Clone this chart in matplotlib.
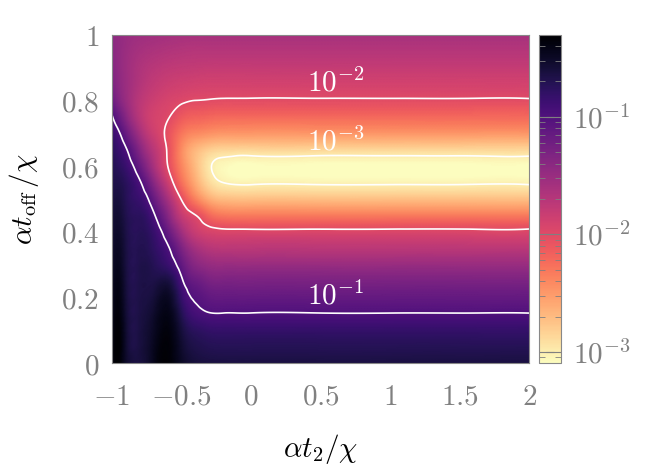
import numpy as np
import matplotlib
matplotlib.use("Agg")
import matplotlib.pyplot as plt
from matplotlib.colors import LogNorm
from matplotlib.ticker import FuncFormatter, NullFormatter
import matplotlib.tri as mtri

plt.rcParams['mathtext.fontset'] = 'cm'
plt.rcParams['font.family'] = 'serif'

# log10 of the plotted quantity
y_rows = [0.00, 0.05, 0.10, 0.15, 0.20, 0.25, 0.30, 0.35, 0.40, 0.45, 0.50,
          0.55, 0.60, 0.65, 0.70, 0.75, 0.80, 0.85, 0.90, 0.95, 1.00]

# columns on the left, where the map depends on t2
x_left = [-1.0, -0.95, -0.9, -0.8, -0.7, -0.6, -0.5, -0.4, -0.3, -0.2]
log_left = [
    [-0.46, -0.30, -0.52, -0.62, -0.45, -0.32, -0.50, -0.60, -0.62, -0.63],
    [-0.47, -0.31, -0.53, -0.63, -0.47, -0.34, -0.54, -0.67, -0.71, -0.72],
    [-0.48, -0.33, -0.54, -0.64, -0.50, -0.37, -0.60, -0.76, -0.81, -0.82],
    [-0.50, -0.36, -0.56, -0.65, -0.54, -0.41, -0.70, -0.92, -0.985, -0.99],
    [-0.52, -0.39, -0.58, -0.66, -0.60, -0.48, -0.82, -1.03, -1.12, -1.14],
    [-0.54, -0.42, -0.60, -0.67, -0.66, -0.62, -0.95, -1.17, -1.28, -1.30],
    [-0.56, -0.46, -0.62, -0.68, -0.72, -0.84, -1.12, -1.38, -1.48, -1.50],
    [-0.58, -0.49, -0.63, -0.70, -0.78, -0.96, -1.30, -1.58, -1.70, -1.73],
    [-0.60, -0.53, -0.65, -0.73, -0.84, -1.14, -1.55, -1.82, -1.92, -1.95],
    [-0.62, -0.57, -0.68, -0.76, -0.96, -1.36, -1.79, -1.99, -2.20, -2.30],
    [-0.65, -0.62, -0.72, -0.85, -1.15, -1.58, -2.01, -2.35, -2.60, -2.70],
    [-0.68, -0.68, -0.75, -0.966, -1.38, -1.82, -2.25, -2.60, -2.88, -3.00],
    [-0.70, -0.76, -0.85, -1.16, -1.60, -1.99, -2.38, -2.70, -2.97, -3.07],
    [-0.75, -0.85, -0.97, -1.36, -1.72, -2.02, -2.42, -2.68, -2.82, -2.87],
    [-0.85, -0.97, -1.16, -1.57, -1.85, -2.05, -2.30, -2.42, -2.47, -2.50],
    [-0.975, -1.16, -1.37, -1.72, -1.90, -1.98, -2.12, -2.18, -2.21, -2.23],
    [-1.17, -1.35, -1.50, -1.73, -1.85, -1.92, -1.97, -2.00, -2.01, -2.02],
    [-1.30, -1.42, -1.52, -1.68, -1.78, -1.84, -1.87, -1.89, -1.90, -1.90],
    [-1.36, -1.45, -1.53, -1.65, -1.72, -1.76, -1.78, -1.79, -1.80, -1.80],
    [-1.40, -1.46, -1.52, -1.60, -1.64, -1.67, -1.69, -1.70, -1.70, -1.70],
    [-1.42, -1.46, -1.50, -1.54, -1.56, -1.58, -1.59, -1.60, -1.60, -1.60],
]

# right part: no t2 dependence any more
x_right = [-0.1, 0.0, 0.5, 1.0, 1.5, 2.0]
log_right = [-0.63, -0.72, -0.82, -0.99, -1.14, -1.30, -1.50, -1.73, -1.95, -2.32,
             -2.72, -3.03, -3.11, -2.88, -2.50, -2.23, -2.02, -1.90, -1.80, -1.70, -1.60]

levels = [1e-3, 1e-2, 1e-1]
level_labels = [r'$10^{-3}$', r'$10^{-2}$', r'$10^{-1}$']
label_pos = [(0.40, 0.649), (0.40, 0.827), (0.40, 0.178)]

x_cols = np.array(x_left + x_right)
y_vals = np.array(y_rows)
logz = np.hstack([np.array(log_left), np.tile(np.array(log_right)[:, None], (1, len(x_right)))])

# triangulate the table and smooth it with matplotlib's cubic interpolator
X, Y = np.meshgrid(x_cols, y_vals)
nx, ny = len(x_cols), len(y_vals)
tris = []
for j in range(ny - 1):
    for i in range(nx - 1):
        a = j * nx + i
        tris.append([a, a + 1, a + nx + 1])
        tris.append([a, a + nx + 1, a + nx])
tri = mtri.Triangulation(X.ravel(), Y.ravel(), np.array(tris))
interp = mtri.CubicTriInterpolator(tri, logz.ravel())

xf = np.linspace(-1 + 1e-6, 2 - 1e-6, 700)
yf = np.linspace(1e-6, 1 - 1e-6, 400)
XF, YF = np.meshgrid(xf, yf)
ZF = 10 ** np.asarray(interp(XF, YF).filled(np.nan))

fig = plt.figure(figsize=(6.67, 4.72), dpi=100)
ax = fig.add_axes([0.1675, 0.2303, 0.6261, 0.6962])
cax = fig.add_axes([0.8085, 0.2303, 0.0321, 0.6962])

norm = LogNorm(vmin=8e-4, vmax=0.5)
mesh = ax.pcolormesh(xf, yf, ZF, cmap='magma_r', norm=norm, shading='gouraud')
ax.contour(xf, yf, ZF, levels=levels, colors='white', linewidths=1.2)
for lab, (tx, ty) in zip(level_labels, label_pos):
    ax.text(tx, ty, lab, color='white', fontsize=21, ha='left', va='baseline')

ax.set_xlim(-1, 2)
ax.set_ylim(0, 1)
ax.set_xticks([-1, -0.5, 0, 0.5, 1, 1.5, 2])
ax.set_yticks([0, 0.2, 0.4, 0.6, 0.8, 1])
fmt = FuncFormatter(lambda v, p: '$%g$' % v)
ax.xaxis.set_major_formatter(fmt)
ax.yaxis.set_major_formatter(fmt)
ax.tick_params(length=0, labelsize=21, labelcolor='#808080')
ax.tick_params(axis='x', pad=14)
ax.tick_params(axis='y', pad=9)
for s in ax.spines.values():
    s.set_color('#888888')
ax.set_xlabel(r'$\alpha t_2/\chi$', fontsize=21, labelpad=15)
ax.set_ylabel(r'$\alpha t_{\rm off}\,/\chi$', fontsize=21, labelpad=14)

cb = fig.colorbar(mesh, cax=cax)
cb.outline.set_edgecolor('#888888')
cb.set_ticks(levels, labels=level_labels)
cax.yaxis.set_minor_formatter(NullFormatter())
cax.tick_params(which='major', direction='in', length=11, color='#808080',
                left=True, right=True, labelsize=21, labelcolor='#808080', pad=9)
cax.tick_params(which='minor', direction='in', length=4, color='#808080',
                left=True, right=True)

fig.savefig('out.png', dpi=100)
